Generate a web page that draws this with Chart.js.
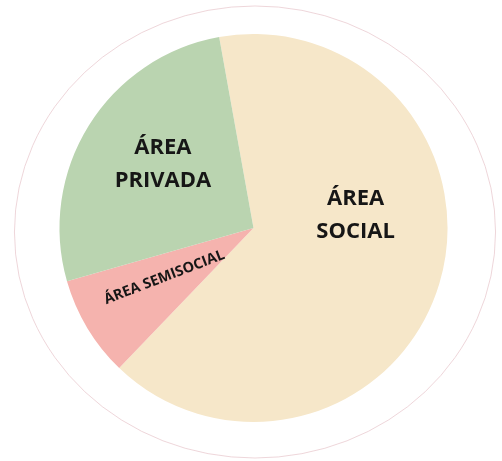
<!DOCTYPE html>
<html>
<head>
<meta charset="utf-8">
<script src="https://cdn.jsdelivr.net/npm/chart.js@4"></script>
<style>
  html, body { margin: 0; padding: 0; background: #fff; }
  #wrap { width: 502px; height: 461px; }
</style>
</head>
<body>
<div id="wrap"><canvas id="pie"></canvas></div>
<script>
// data (share of the circle, %)
const areaLabels = ['ÁREA SOCIAL', 'ÁREA SEMISOCIAL', 'ÁREA PRIVADA'];
const areaShares = [65, 8.4, 26.6];
const areaColors = ['#f6e7c9', '#f5b3ae', '#bad4b0'];

// where each label sits: angle (deg, clockwise from top), distance as part of radius, text rotation
const labelLines = [['ÁREA', 'SOCIAL'], ['ÁREA SEMISOCIAL'], ['ÁREA', 'PRIVADA']];
const labelAngles = [83, 241, 305];
const labelDist = [0.53, 0.525, 0.57];
const labelTilt = [0, -21, 0];
const labelSize = [22, 14.5, 22];

const outerRing = {
    id: 'outerRing',
    beforeDraw(chart) {
        let arc = chart.getDatasetMeta(0).data[0];
        if (!arc) return;
        let ctx = chart.ctx;
        let r = arc.outerRadius;
        ctx.save();
        ctx.strokeStyle = 'rgba(232,200,205,0.75)';
        ctx.lineWidth = 1;
        ctx.beginPath();
        ctx.ellipse(arc.x + 1.5, arc.y + 4, r * 1.24, r * 1.165, 0, 0, Math.PI * 2);
        ctx.stroke();
        ctx.restore();
    }
};

const sliceText = {
    id: 'sliceText',
    afterDatasetsDraw(chart) {
        let arc = chart.getDatasetMeta(0).data[0];
        if (!arc) return;
        let ctx = chart.ctx;
        labelLines.forEach((lines, i) => {
            let a = (labelAngles[i] - 90) * Math.PI / 180;
            let d = arc.outerRadius * labelDist[i];
            let x = arc.x + Math.cos(a) * d;
            let y = arc.y + Math.sin(a) * d;
            ctx.save();
            ctx.translate(x, y);
            ctx.rotate(labelTilt[i] * Math.PI / 180);
            ctx.fillStyle = '#161616';
            ctx.font = `bold ${labelSize[i]}px "Open Sans", "Noto Sans", sans-serif`;
            ctx.textAlign = 'center';
            ctx.textBaseline = 'middle';
            let lh = 33;
            lines.forEach((t, j) => {
                ctx.fillText(t, 0, (j - (lines.length - 1) / 2) * lh);
            });
            ctx.restore();
        });
    }
};

new Chart(document.getElementById('pie'), {
    type: 'pie',
    data: {
        labels: areaLabels,
        datasets: [{
            data: areaShares,
            backgroundColor: areaColors,
            borderWidth: 0
        }]
    },
    options: {
        responsive: true,
        maintainAspectRatio: false,
        animation: false,
        rotation: -10.2,
        layout: { padding: { top: 34, bottom: 39, left: 5, right: 0 } },
        plugins: {
            legend: { display: false },
            tooltip: { enabled: false }
        }
    },
    plugins: [outerRing, sliceText]
});
</script>
</body>
</html>
